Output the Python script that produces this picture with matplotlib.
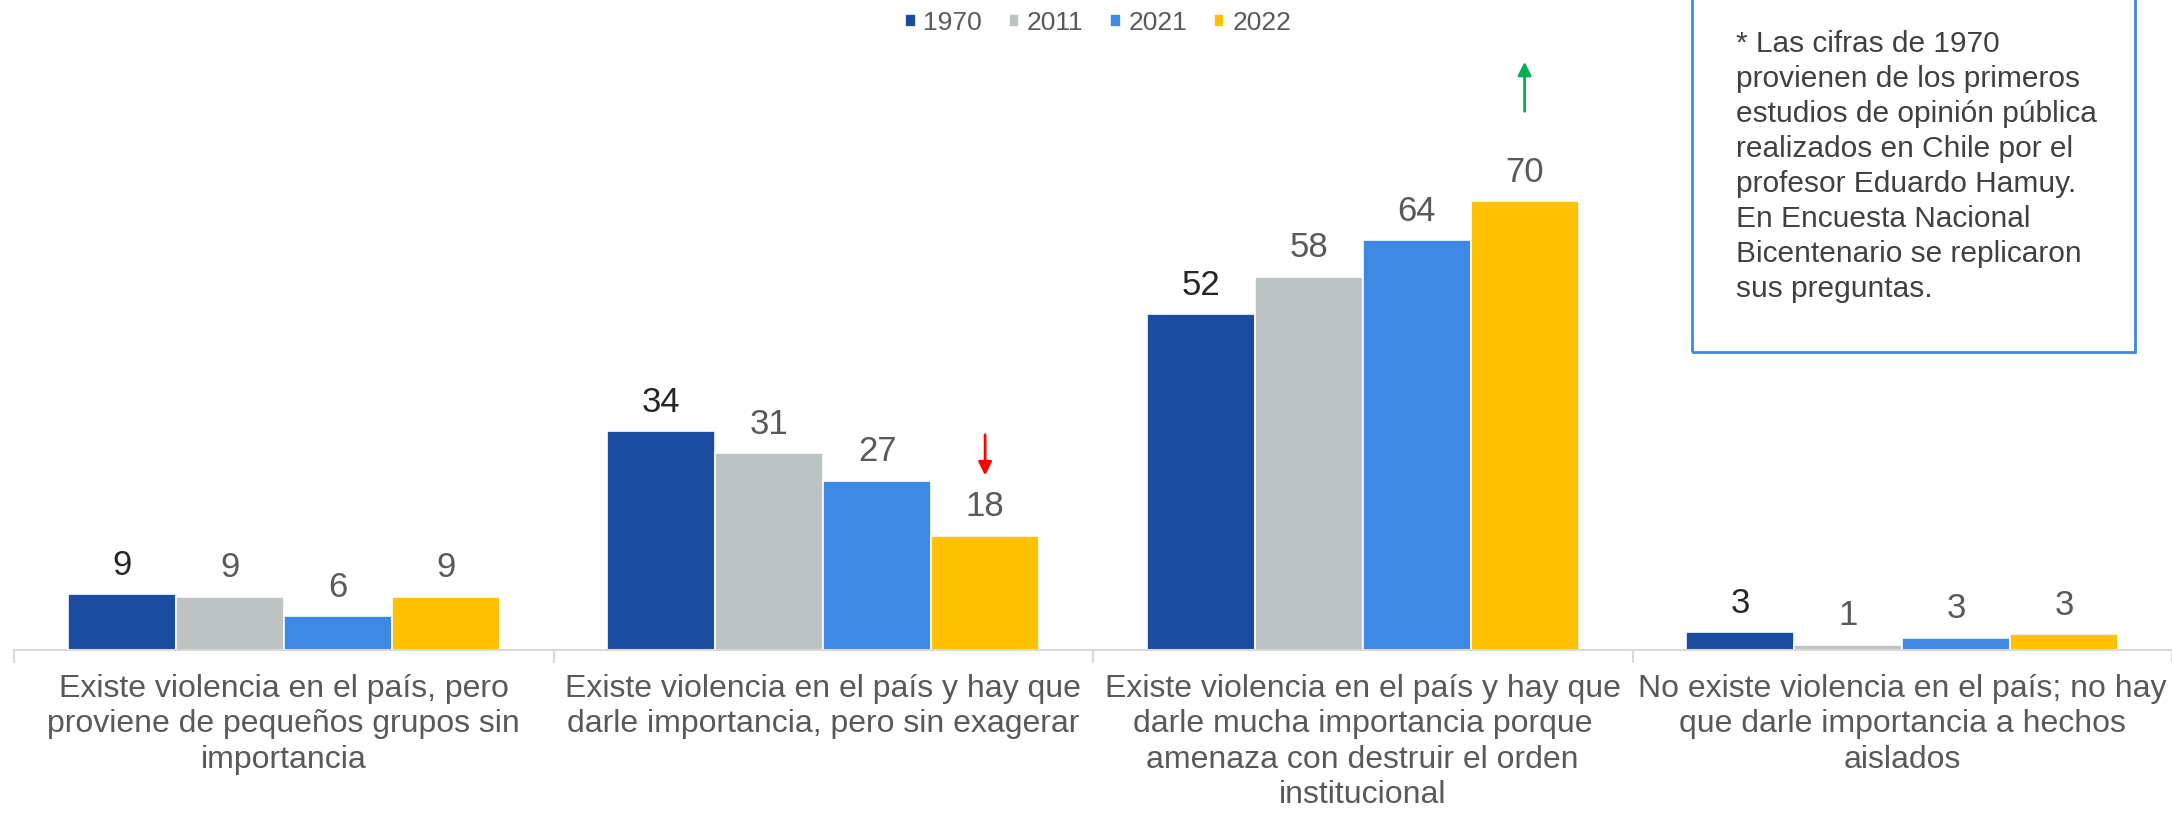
import numpy as np
import matplotlib.pyplot as plt
from matplotlib.patches import Rectangle

plt.rcParams['font.family'] = ['Liberation Sans', 'DejaVu Sans']

categories = [
    'Existe violencia en el país, pero\nproviene de pequeños grupos sin\nimportancia',
    'Existe violencia en el país y hay que\ndarle importancia, pero sin exagerar',
    'Existe violencia en el país y hay que\ndarle mucha importancia porque\namenaza con destruir el orden\ninstitucional',
    'No existe violencia en el país; no hay\nque darle importancia a hechos\naislados',
]
years = ['1970', '2011', '2021', '2022']

# bar heights as drawn, and labels as printed
v1970 = [8.7, 34.1, 52.4, 2.8]
v2011 = [8.3, 30.7, 58.2, 0.8]
v2021 = [5.3, 26.4, 63.9, 1.9]
v2022 = [8.3, 17.8, 70.0, 2.45]
lab1970 = [9, 34, 52, 3]
lab2011 = [9, 31, 58, 1]
lab2021 = [6, 27, 64, 3]
lab2022 = [9, 18, 70, 3]

note = ('* Las cifras de 1970\nprovienen de los primeros\nestudios de opinión pública\n'
        'realizados en Chile por el\nprofesor Eduardo Hamuy.\nEn Encuesta Nacional\n'
        'Bicentenario se replicaron\nsus preguntas.')

colors = ['#1A4DA1', '#BDC3C3', '#3E88E5', '#FFC000']
label_colors = ['#262626', '#595959', '#595959', '#595959']

fig = plt.figure(figsize=(21.72, 8.15), dpi=100)
ax = fig.add_axes([14 / 2172, 1 - 650 / 815, 1 - 14 / 2172, 650 / 815])

x = np.arange(len(categories))
w = 0.2
series = [v1970, v2011, v2021, v2022]
labels = [lab1970, lab2011, lab2021, lab2022]
for i, (vals, labs) in enumerate(zip(series, labels)):
    pos = x + (i - 1.5) * w
    ax.bar(pos, vals, w, color=colors[i], edgecolor='white', linewidth=1.2, label=years[i])
    for px, v, l in zip(pos, vals, labs):
        ax.annotate(str(l), (px, v), xytext=(0, 9), textcoords='offset points',
                    ha='center', va='bottom', fontsize=25, color=label_colors[i])

ax.set_xlim(-0.5, 3.5)
ax.set_ylim(0, 101.4)
ax.set_yticks([])
ax.set_xticks(x)
ax.set_xticklabels(categories, fontsize=23, color='#595959', linespacing=1.24)
ax.tick_params(axis='x', which='major', length=0, pad=17)
ax.set_xticks(np.arange(-0.5, 4.0, 1.0), minor=True)
ax.tick_params(axis='x', which='minor', length=9, color='#D9D9D9', width=1.5)
for s in ['top', 'right', 'left']:
    ax.spines[s].set_visible(False)
ax.spines['bottom'].set_color('#D9D9D9')
ax.spines['bottom'].set_linewidth(1.5)

# arrows
ax.annotate('', xy=(1.3, 26.8), xytext=(1.3, 34.0),
            arrowprops=dict(arrowstyle='-|>,head_length=0.8,head_width=0.4', color='#FF0000', lw=2))
ax.annotate('', xy=(2.3, 92.2), xytext=(2.3, 83.6),
            arrowprops=dict(arrowstyle='-|>,head_length=0.8,head_width=0.4', color='#00B050', lw=2))

leg = fig.legend(loc='center', bbox_to_anchor=(1098 / 2172, 1 - 23 / 815), ncol=4, frameon=False,
                 fontsize=19, handlelength=0.4, handleheight=0.4, handletextpad=0.3,
                 columnspacing=1.0, labelcolor='#595959')

# note box
box = Rectangle((1692 / 2172, 1 - 352 / 815), (2135 - 1692) / 2172, 360 / 815,
                transform=fig.transFigure, fill=False, edgecolor='#3E88E5', linewidth=2)
fig.patches.append(box)
fig.text(1736 / 2172, 1 - 30 / 815, note, fontsize=21.5, color='#404040', va='top', ha='left',
         linespacing=1.32)

fig.savefig('out.png', dpi=100)
